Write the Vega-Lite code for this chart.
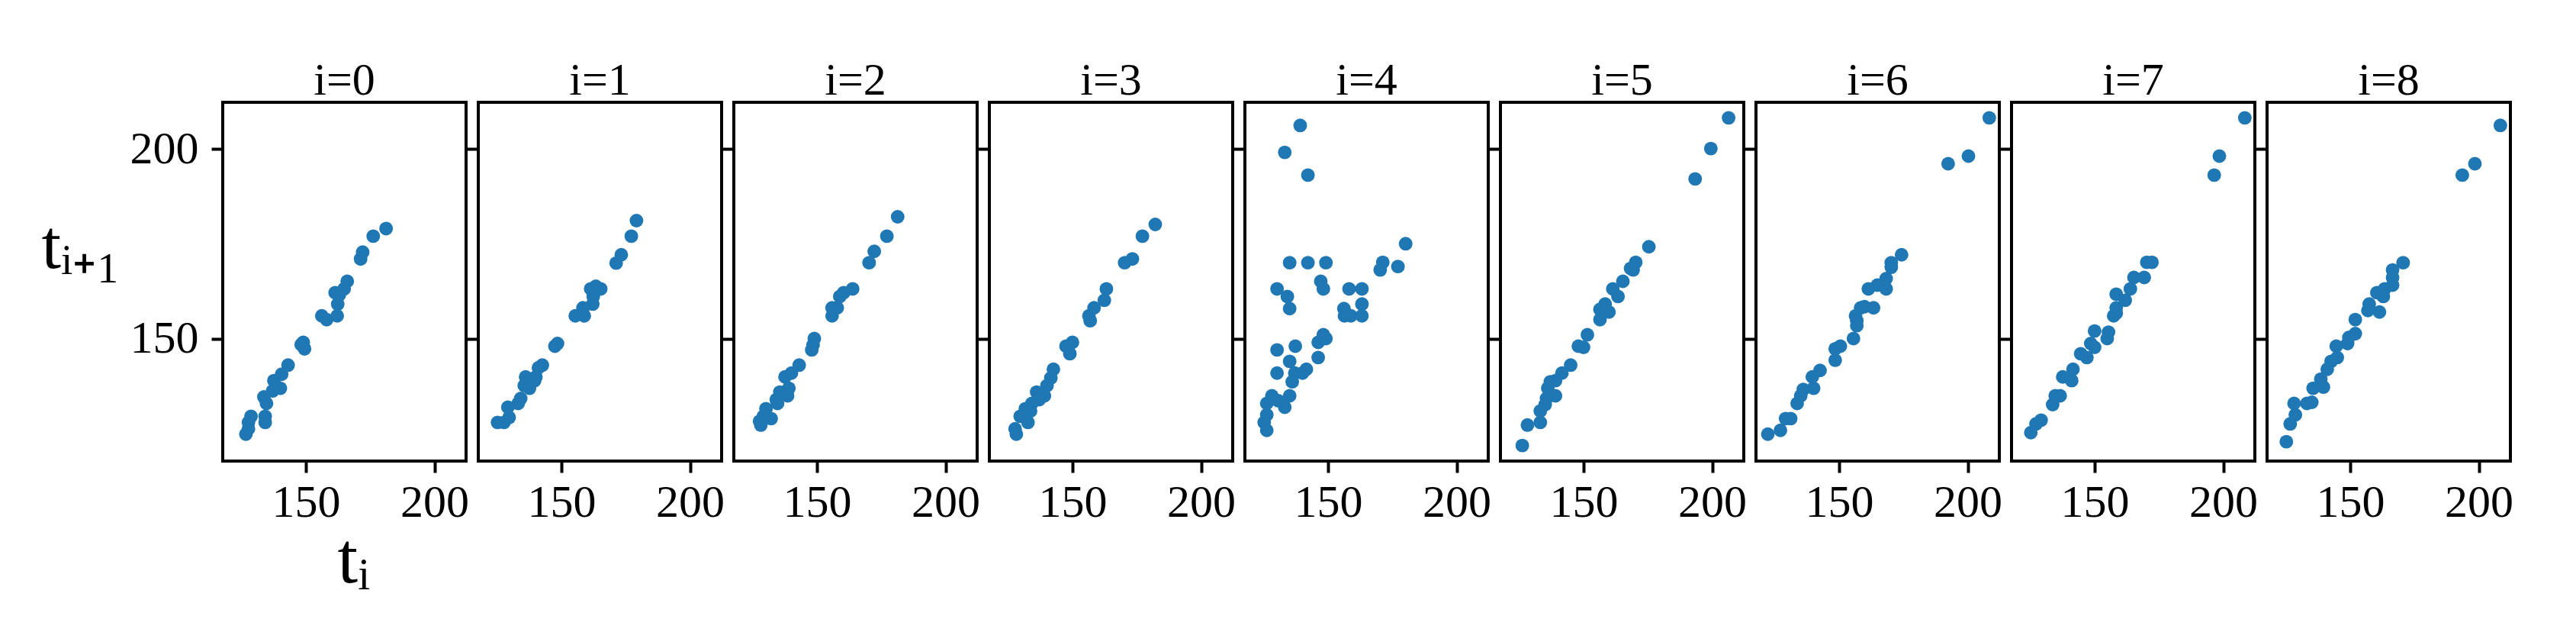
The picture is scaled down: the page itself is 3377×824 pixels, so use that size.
{
  "$schema": "https://vega.github.io/schema/vega-lite/v6.json",
  "padding": {"left": 52, "top": 74, "right": 5, "bottom": 5},
  "background": "white",
  "config": {
    "font": "Liberation Serif",
    "view": {"stroke": "black", "strokeWidth": 4},
    "axis": {
      "domain": false, "grid": false, "ticks": true, "tickColor": "black", "tickWidth": 4, "tickSize": 15,
      "labelFont": "Liberation Serif", "labelFontSize": 60, "labelColor": "black",
      "titleFont": "Liberation Serif", "titleFontSize": 96, "titleFontWeight": "normal", "titleColor": "black"
    },
    "axisX": {"labelPadding": 10},
    "axisY": {"labelPadding": 17},
    "title": {"font": "Liberation Serif", "fontSize": 60, "fontWeight": "normal", "color": "black", "anchor": "middle", "offset": -3},
    "concat": {"spacing": 16}
  },
  "bounds": "flush",
  "spacing": 16,
  "data": {"values": [
    {"i":0,"x":181.2,"y":179.0},{"i":0,"x":176.2,"y":177.0},{"i":0,"x":172.1,"y":172.8},{"i":0,"x":171.3,"y":171.0},{"i":0,"x":166.1,"y":165.1},{"i":0,"x":164.9,"y":163.1},{"i":0,"x":161.4,"y":162.1},{"i":0,"x":162.4,"y":159.1},{"i":0,"x":162.2,"y":156.0},{"i":0,"x":156.2,"y":156.0},{"i":0,"x":158.1,"y":155.0},{"i":0,"x":149.0,"y":149.0},{"i":0,"x":149.5,"y":147.3},{"i":0,"x":143.1,"y":143.0},{"i":0,"x":140.6,"y":140.6},{"i":0,"x":137.6,"y":138.9},{"i":0,"x":140.1,"y":136.9},{"i":0,"x":137.1,"y":136.2},{"i":0,"x":133.7,"y":134.6},{"i":0,"x":134.7,"y":132.9},{"i":0,"x":128.7,"y":129.5},{"i":0,"x":134.2,"y":129.5},{"i":0,"x":134.2,"y":127.9},{"i":0,"x":127.7,"y":127.9},{"i":0,"x":126.7,"y":124.8},{"i":0,"x":127.7,"y":126.2},{"i":0,"x":148.2,"y":148.4},{"i":0,"x":163.0,"y":161.5},
    {"i":1,"x":179.2,"y":181.1},{"i":1,"x":177.2,"y":177.0},{"i":1,"x":173.3,"y":172.1},{"i":1,"x":171.3,"y":169.9},{"i":1,"x":163.4,"y":163.8},{"i":1,"x":165.3,"y":163.1},{"i":1,"x":162.4,"y":161.1},{"i":1,"x":162.2,"y":159.1},{"i":1,"x":158.4,"y":158.1},{"i":1,"x":155.4,"y":156.0},{"i":1,"x":158.9,"y":156.0},{"i":1,"x":148.5,"y":148.7},{"i":1,"x":147.5,"y":148.0},{"i":1,"x":142.6,"y":143.0},{"i":1,"x":140.1,"y":139.9},{"i":1,"x":136.1,"y":139.9},{"i":1,"x":135.6,"y":137.6},{"i":1,"x":139.6,"y":138.9},{"i":1,"x":134.2,"y":134.2},{"i":1,"x":133.2,"y":132.9},{"i":1,"x":129.2,"y":131.9},{"i":1,"x":129.7,"y":129.2},{"i":1,"x":125.2,"y":127.9},{"i":1,"x":127.7,"y":127.9},{"i":1,"x":137.6,"y":136.9},{"i":1,"x":141.1,"y":142.3},{"i":1,"x":161.4,"y":163.1},
    {"i":2,"x":181.4,"y":182.1},{"i":2,"x":177.2,"y":177.0},{"i":2,"x":172.3,"y":173.0},{"i":2,"x":170.3,"y":170.0},{"i":2,"x":163.9,"y":163.1},{"i":2,"x":160.4,"y":162.1},{"i":2,"x":158.9,"y":161.1},{"i":2,"x":157.9,"y":158.1},{"i":2,"x":155.9,"y":156.0},{"i":2,"x":155.9,"y":158.1},{"i":2,"x":149.0,"y":150.0},{"i":2,"x":148.5,"y":148.3},{"i":2,"x":148.0,"y":147.0},{"i":2,"x":143.1,"y":143.0},{"i":2,"x":140.1,"y":140.9},{"i":2,"x":137.6,"y":139.9},{"i":2,"x":139.1,"y":136.9},{"i":2,"x":135.6,"y":135.9},{"i":2,"x":138.6,"y":134.9},{"i":2,"x":134.2,"y":133.9},{"i":2,"x":134.7,"y":132.9},{"i":2,"x":130.2,"y":131.5},{"i":2,"x":129.2,"y":129.5},{"i":2,"x":132.2,"y":128.9},{"i":2,"x":128.2,"y":127.2},{"i":2,"x":127.7,"y":128.2},
    {"i":3,"x":182.2,"y":180.1},{"i":3,"x":177.2,"y":177.0},{"i":3,"x":173.3,"y":171.0},{"i":3,"x":170.3,"y":170.0},{"i":3,"x":163.2,"y":163.1},{"i":3,"x":162.4,"y":160.1},{"i":3,"x":158.4,"y":158.1},{"i":3,"x":156.4,"y":156.0},{"i":3,"x":156.9,"y":154.7},{"i":3,"x":150.0,"y":149.0},{"i":3,"x":147.5,"y":148.0},{"i":3,"x":149.0,"y":146.0},{"i":3,"x":142.6,"y":141.9},{"i":3,"x":141.6,"y":139.6},{"i":3,"x":140.1,"y":137.6},{"i":3,"x":136.1,"y":135.9},{"i":3,"x":139.1,"y":134.9},{"i":3,"x":134.2,"y":132.9},{"i":3,"x":133.7,"y":130.9},{"i":3,"x":129.7,"y":129.5},{"i":3,"x":132.7,"y":127.9},{"i":3,"x":127.7,"y":126.2},{"i":3,"x":128.2,"y":124.8},{"i":3,"x":137.1,"y":133.9},{"i":3,"x":131.7,"y":131.5},
    {"i":4,"x":139.2,"y":206.2},{"i":4,"x":133.2,"y":199.1},{"i":4,"x":142.2,"y":193.1},{"i":4,"x":180.2,"y":175.0},{"i":4,"x":135.1,"y":170.0},{"i":4,"x":142.2,"y":170.0},{"i":4,"x":149.2,"y":170.0},{"i":4,"x":171.3,"y":170.1},{"i":4,"x":170.3,"y":168.1},{"i":4,"x":177.2,"y":169.0},{"i":4,"x":147.2,"y":165.1},{"i":4,"x":148.2,"y":163.1},{"i":4,"x":130.2,"y":163.1},{"i":4,"x":134.2,"y":161.1},{"i":4,"x":135.1,"y":157.9},{"i":4,"x":158.2,"y":163.1},{"i":4,"x":163.2,"y":163.1},{"i":4,"x":163.2,"y":159.1},{"i":4,"x":156.2,"y":157.9},{"i":4,"x":156.4,"y":156.0},{"i":4,"x":158.9,"y":156.0},{"i":4,"x":163.2,"y":156.0},{"i":4,"x":148.2,"y":151.0},{"i":4,"x":149.2,"y":150.0},{"i":4,"x":146.2,"y":149.0},{"i":4,"x":130.2,"y":147.0},{"i":4,"x":137.3,"y":148.0},{"i":4,"x":146.2,"y":145.0},{"i":4,"x":135.1,"y":144.0},{"i":4,"x":141.6,"y":141.9},{"i":4,"x":130.2,"y":140.9},{"i":4,"x":137.1,"y":140.9},{"i":4,"x":140.1,"y":140.9},{"i":4,"x":136.1,"y":138.6},{"i":4,"x":135.1,"y":134.9},{"i":4,"x":128.2,"y":134.9},{"i":4,"x":126.2,"y":132.9},{"i":4,"x":133.2,"y":131.9},{"i":4,"x":130.7,"y":133.6},{"i":4,"x":126.2,"y":129.9},{"i":4,"x":125.2,"y":127.9},{"i":4,"x":126.2,"y":125.8},
    {"i":5,"x":206.4,"y":208.2},{"i":5,"x":199.5,"y":200.1},{"i":5,"x":193.4,"y":192.1},{"i":5,"x":175.4,"y":174.2},{"i":5,"x":170.3,"y":170.1},{"i":5,"x":169.3,"y":168.1},{"i":5,"x":165.3,"y":165.1},{"i":5,"x":161.4,"y":163.1},{"i":5,"x":163.4,"y":161.1},{"i":5,"x":158.4,"y":159.1},{"i":5,"x":156.4,"y":157.7},{"i":5,"x":156.4,"y":155.0},{"i":5,"x":151.5,"y":151.0},{"i":5,"x":148.0,"y":148.0},{"i":5,"x":150.0,"y":147.7},{"i":5,"x":145.0,"y":143.0},{"i":5,"x":141.6,"y":140.9},{"i":5,"x":139.1,"y":138.9},{"i":5,"x":136.1,"y":136.9},{"i":5,"x":139.1,"y":134.9},{"i":5,"x":135.6,"y":134.2},{"i":5,"x":135.1,"y":132.6},{"i":5,"x":133.2,"y":130.9},{"i":5,"x":133.2,"y":127.9},{"i":5,"x":128.2,"y":127.2},{"i":5,"x":126.2,"y":121.8},{"i":5,"x":137.1,"y":138.6},{"i":5,"x":159.9,"y":157.0},{"i":5,"x":168.3,"y":168.5},
    {"i":6,"x":208.4,"y":208.2},{"i":6,"x":200.3,"y":198.1},{"i":6,"x":192.4,"y":196.1},{"i":6,"x":174.3,"y":172.1},{"i":6,"x":170.3,"y":170.0},{"i":6,"x":170.3,"y":168.8},{"i":6,"x":168.3,"y":165.8},{"i":6,"x":168.3,"y":163.1},{"i":6,"x":164.9,"y":164.1},{"i":6,"x":161.4,"y":163.1},{"i":6,"x":163.4,"y":158.1},{"i":6,"x":158.4,"y":158.1},{"i":6,"x":156.9,"y":154.7},{"i":6,"x":156.9,"y":153.4},{"i":6,"x":155.6,"y":150.0},{"i":6,"x":150.5,"y":148.0},{"i":6,"x":148.5,"y":147.3},{"i":6,"x":148.5,"y":144.3},{"i":6,"x":142.6,"y":141.6},{"i":6,"x":139.6,"y":139.9},{"i":6,"x":140.1,"y":136.9},{"i":6,"x":136.1,"y":136.6},{"i":6,"x":135.1,"y":134.9},{"i":6,"x":133.7,"y":132.9},{"i":6,"x":131.2,"y":128.9},{"i":6,"x":129.2,"y":128.9},{"i":6,"x":127.2,"y":125.8},{"i":6,"x":122.3,"y":124.8},{"i":6,"x":156.4,"y":156.0},{"i":6,"x":159.9,"y":158.4},
    {"i":7,"x":208.4,"y":208.2},{"i":7,"x":198.5,"y":198.1},{"i":7,"x":196.5,"y":193.1},{"i":7,"x":172.3,"y":170.1},{"i":7,"x":170.3,"y":170.1},{"i":7,"x":169.3,"y":166.1},{"i":7,"x":165.3,"y":166.1},{"i":7,"x":163.9,"y":163.1},{"i":7,"x":158.4,"y":161.7},{"i":7,"x":161.9,"y":160.1},{"i":7,"x":158.4,"y":158.1},{"i":7,"x":157.4,"y":156.0},{"i":7,"x":150.0,"y":152.0},{"i":7,"x":155.4,"y":151.7},{"i":7,"x":154.9,"y":150.0},{"i":7,"x":148.5,"y":148.7},{"i":7,"x":150.0,"y":147.7},{"i":7,"x":144.6,"y":146.0},{"i":7,"x":147.0,"y":145.0},{"i":7,"x":141.6,"y":141.9},{"i":7,"x":137.6,"y":139.9},{"i":7,"x":141.1,"y":138.9},{"i":7,"x":136.6,"y":134.9},{"i":7,"x":134.7,"y":134.9},{"i":7,"x":133.7,"y":132.6},{"i":7,"x":129.2,"y":128.5},{"i":7,"x":127.2,"y":127.5},{"i":7,"x":125.2,"y":125.2},{"i":7,"x":158.4,"y":156.7},
    {"i":8,"x":208.4,"y":206.2},{"i":8,"x":198.5,"y":196.1},{"i":8,"x":193.6,"y":193.1},{"i":8,"x":170.6,"y":170.0},{"i":8,"x":166.5,"y":168.1},{"i":8,"x":166.5,"y":166.1},{"i":8,"x":166.5,"y":164.1},{"i":8,"x":163.4,"y":163.1},{"i":8,"x":160.4,"y":162.1},{"i":8,"x":162.9,"y":161.1},{"i":8,"x":157.4,"y":159.1},{"i":8,"x":161.4,"y":157.0},{"i":8,"x":156.9,"y":157.4},{"i":8,"x":152.0,"y":155.0},{"i":8,"x":152.0,"y":151.3},{"i":8,"x":149.0,"y":148.7},{"i":8,"x":144.6,"y":148.0},{"i":8,"x":145.0,"y":145.0},{"i":8,"x":142.6,"y":144.0},{"i":8,"x":141.1,"y":141.9},{"i":8,"x":138.6,"y":139.3},{"i":8,"x":139.6,"y":137.2},{"i":8,"x":135.6,"y":136.9},{"i":8,"x":135.1,"y":133.2},{"i":8,"x":133.2,"y":132.9},{"i":8,"x":128.2,"y":132.9},{"i":8,"x":128.7,"y":129.9},{"i":8,"x":126.7,"y":127.5},{"i":8,"x":125.2,"y":122.8},{"i":8,"x":149.5,"y":150.3}
  ]},
  "hconcat": [
    {"title": "i=0", "width": 319, "height": 470, "transform": [{"filter": "datum.i == 0"}],
     "mark": {"type": "point", "filled": true, "size": 320, "opacity": 1, "color": "#1f77b4", "strokeWidth": 0},
     "encoding": {
       "x": {"field": "x", "type": "quantitative", "scale": {"domain": [117.7, 212.3], "nice": false, "zero": false}, "axis": {"values": [150, 200], "title": "tᵢ", "titleX": 150, "titleY": 158, "titleAlign": "left", "titleBaseline": "alphabetic"}},
       "y": {"field": "y", "type": "quantitative", "scale": {"domain": [117.7, 212.3], "nice": false, "zero": false}, "axis": {"values": [150, 200], "title": "tᵢ₊₁", "titleAngle": 0, "titleX": -238, "titleY": 216, "titleAlign": "left", "titleBaseline": "alphabetic", "titleFontSize": 92}}
     }},
    {"title": "i=1", "width": 319, "height": 470, "transform": [{"filter": "datum.i == 1"}],
     "mark": {"type": "point", "filled": true, "size": 320, "opacity": 1, "color": "#1f77b4", "strokeWidth": 0},
     "encoding": {
       "x": {"field": "x", "type": "quantitative", "scale": {"domain": [117.7, 212.3], "nice": false, "zero": false}, "axis": {"values": [150, 200], "title": null}},
       "y": {"field": "y", "type": "quantitative", "scale": {"domain": [117.7, 212.3], "nice": false, "zero": false}, "axis": {"values": [150, 200], "title": null, "labels": false}}
     }},
    {"title": "i=2", "width": 319, "height": 470, "transform": [{"filter": "datum.i == 2"}],
     "mark": {"type": "point", "filled": true, "size": 320, "opacity": 1, "color": "#1f77b4", "strokeWidth": 0},
     "encoding": {
       "x": {"field": "x", "type": "quantitative", "scale": {"domain": [117.7, 212.3], "nice": false, "zero": false}, "axis": {"values": [150, 200], "title": null}},
       "y": {"field": "y", "type": "quantitative", "scale": {"domain": [117.7, 212.3], "nice": false, "zero": false}, "axis": {"values": [150, 200], "title": null, "labels": false}}
     }},
    {"title": "i=3", "width": 319, "height": 470, "transform": [{"filter": "datum.i == 3"}],
     "mark": {"type": "point", "filled": true, "size": 320, "opacity": 1, "color": "#1f77b4", "strokeWidth": 0},
     "encoding": {
       "x": {"field": "x", "type": "quantitative", "scale": {"domain": [117.7, 212.3], "nice": false, "zero": false}, "axis": {"values": [150, 200], "title": null}},
       "y": {"field": "y", "type": "quantitative", "scale": {"domain": [117.7, 212.3], "nice": false, "zero": false}, "axis": {"values": [150, 200], "title": null, "labels": false}}
     }},
    {"title": "i=4", "width": 319, "height": 470, "transform": [{"filter": "datum.i == 4"}],
     "mark": {"type": "point", "filled": true, "size": 320, "opacity": 1, "color": "#1f77b4", "strokeWidth": 0},
     "encoding": {
       "x": {"field": "x", "type": "quantitative", "scale": {"domain": [117.7, 212.3], "nice": false, "zero": false}, "axis": {"values": [150, 200], "title": null}},
       "y": {"field": "y", "type": "quantitative", "scale": {"domain": [117.7, 212.3], "nice": false, "zero": false}, "axis": {"values": [150, 200], "title": null, "labels": false}}
     }},
    {"title": "i=5", "width": 319, "height": 470, "transform": [{"filter": "datum.i == 5"}],
     "mark": {"type": "point", "filled": true, "size": 320, "opacity": 1, "color": "#1f77b4", "strokeWidth": 0},
     "encoding": {
       "x": {"field": "x", "type": "quantitative", "scale": {"domain": [117.7, 212.3], "nice": false, "zero": false}, "axis": {"values": [150, 200], "title": null}},
       "y": {"field": "y", "type": "quantitative", "scale": {"domain": [117.7, 212.3], "nice": false, "zero": false}, "axis": {"values": [150, 200], "title": null, "labels": false}}
     }},
    {"title": "i=6", "width": 319, "height": 470, "transform": [{"filter": "datum.i == 6"}],
     "mark": {"type": "point", "filled": true, "size": 320, "opacity": 1, "color": "#1f77b4", "strokeWidth": 0},
     "encoding": {
       "x": {"field": "x", "type": "quantitative", "scale": {"domain": [117.7, 212.3], "nice": false, "zero": false}, "axis": {"values": [150, 200], "title": null}},
       "y": {"field": "y", "type": "quantitative", "scale": {"domain": [117.7, 212.3], "nice": false, "zero": false}, "axis": {"values": [150, 200], "title": null, "labels": false}}
     }},
    {"title": "i=7", "width": 319, "height": 470, "transform": [{"filter": "datum.i == 7"}],
     "mark": {"type": "point", "filled": true, "size": 320, "opacity": 1, "color": "#1f77b4", "strokeWidth": 0},
     "encoding": {
       "x": {"field": "x", "type": "quantitative", "scale": {"domain": [117.7, 212.3], "nice": false, "zero": false}, "axis": {"values": [150, 200], "title": null}},
       "y": {"field": "y", "type": "quantitative", "scale": {"domain": [117.7, 212.3], "nice": false, "zero": false}, "axis": {"values": [150, 200], "title": null, "labels": false}}
     }},
    {"title": "i=8", "width": 319, "height": 470, "transform": [{"filter": "datum.i == 8"}],
     "mark": {"type": "point", "filled": true, "size": 320, "opacity": 1, "color": "#1f77b4", "strokeWidth": 0},
     "encoding": {
       "x": {"field": "x", "type": "quantitative", "scale": {"domain": [117.7, 212.3], "nice": false, "zero": false}, "axis": {"values": [150, 200], "title": null}},
       "y": {"field": "y", "type": "quantitative", "scale": {"domain": [117.7, 212.3], "nice": false, "zero": false}, "axis": {"values": [150, 200], "title": null, "labels": false}}
     }}
  ]
}
